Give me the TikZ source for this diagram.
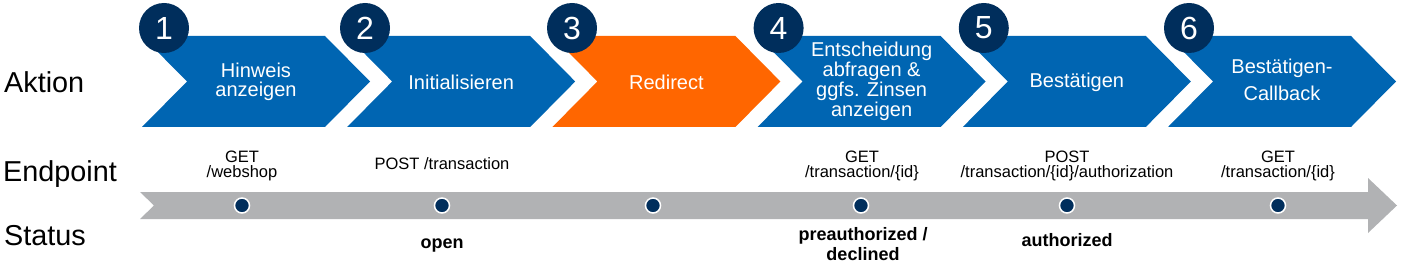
\documentclass[tikz,border=0pt]{standalone}
\usepackage{fontspec}
\setmainfont{Liberation Sans}
\definecolor{cblue}{RGB}{0,101,178}
\definecolor{corange}{RGB}{255,102,0}
\definecolor{cnavy}{RGB}{0,46,92}
\definecolor{cgray}{RGB}{177,178,180}
\newcommand{\chevpath}[1]{(#1,36) -- ++(183,0) -- ++(45,45.5) -- ++(-45,45.5) -- ++(-183,0) -- ++(45,-45.5) -- cycle}
\begin{document}
\begin{tikzpicture}[x=1pt,y=-1pt,
  chevtxt/.style={text=white, align=center, inner sep=0pt},
  numcirc/.style={circle, fill=cnavy, minimum size=50pt, inner sep=0pt, text=white, font=\fontsize{32}{32}\selectfont},
  rowlabel/.style={anchor=base west, inner sep=0pt, font=\fontsize{28.8}{30}\selectfont},
  endpt/.style={anchor=base, align=center, inner sep=0pt, font=\fontsize{16.5}{15.5}\selectfont},
  stat/.style={anchor=base, align=center, inner sep=0pt, font=\fontsize{18}{19.5}\selectfont\bfseries},
  dot/.style={circle, fill=cnavy, draw=white, line width=1.5pt, minimum size=15pt, inner sep=0pt}]
\useasboundingbox (0,0) rectangle (1403,267);
% row labels
\node[rowlabel] (lA) at (4,93) {Aktion};
\node[rowlabel] (lE) at (3,182) {Endpoint};
\node[rowlabel] (lS) at (4,245.5) {Status};
% chevrons
\fill[cblue] \chevpath{142};
\fill[cblue] \chevpath{347.2};
\fill[corange] \chevpath{552.4};
\fill[cblue] \chevpath{757.6};
\fill[cblue] \chevpath{962.8};
\fill[cblue] \chevpath{1168};
\node[chevtxt, font=\fontsize{20}{19.5}\selectfont] (t1) at (256,82) {Hinweis\\anzeigen};
\node[chevtxt, font=\fontsize{20}{20}\selectfont] (t2) at (461.2,82) {Initialisieren};
\node[chevtxt, font=\fontsize{20}{20}\selectfont] (t3) at (666.4,82) {Redirect};
\node[chevtxt, font=\fontsize{20}{20}\selectfont] (t4) at (871.6,81.5) {Entscheidung\\abfragen \&\\ggfs. Zinsen\\anzeigen};
\node[chevtxt, font=\fontsize{20}{20}\selectfont] (t5) at (1076.8,82) {Bestätigen};
\node[chevtxt, font=\fontsize{20}{27.5}\selectfont] (t6) at (1282,80) {Bestätigen-\\Callback};
% number circles
\node[numcirc] (n1) at (164,28) {1};
\node[numcirc] (n2) at (365,28) {2};
\node[numcirc] (n3) at (572,28) {3};
\node[numcirc] (n4) at (778.6,28) {4};
\node[numcirc] (n5) at (983.8,28) {5};
\node[numcirc] (n6) at (1189,28) {6};
% gray timeline arrow
\fill[cgray] (140,192) -- (1368,192) -- (1368,178) -- (1397,205.5) -- (1368,233) -- (1368,219) -- (140,219) -- (154,205.5) -- cycle;
% dots
\node[dot] (d1) at (242,205.5) {};
\node[dot] (d2) at (442,205.5) {};
\node[dot] (d3) at (653,205.5) {};
\node[dot] (d4) at (861,205.5) {};
\node[dot] (d5) at (1067,205.5) {};
\node[dot] (d6) at (1278,205.5) {};
% endpoints
\node[endpt] (e1) at (242,177.5) {GET\\/webshop};
\node[endpt] (e2) at (442,170) {POST /transaction};
\node[endpt] (e4) at (862,177.5) {GET\\/transaction/\{id\}};
\node[endpt] (e5) at (1067,177.5) {POST\\/transaction/\{id\}/authorization};
\node[endpt] (e6) at (1278,177.5) {GET\\/transaction/\{id\}};
% status
\node[stat] (s2) at (442,248) {open};
\node[stat] (s4) at (863,260) {preauthorized /\\declined};
\node[stat] (s5) at (1067,246) {authorized};
\end{tikzpicture}
\end{document}
